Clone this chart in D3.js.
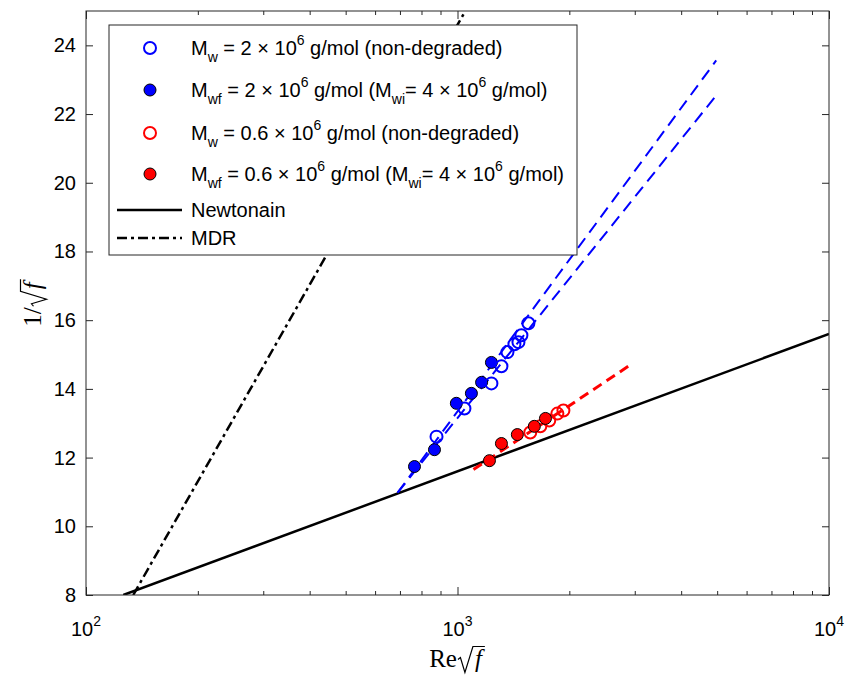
<!DOCTYPE html>
<html>
<head>
<meta charset="utf-8">
<script src="https://cdn.jsdelivr.net/npm/d3@7"></script>
<style>
body { margin: 0; background: #fff; }
text { font-family: "Liberation Sans", Arial, sans-serif; fill: #000; }
.tex { font-family: "Liberation Serif", "DejaVu Serif", serif; }
</style>
</head>
<body>
<div id="main"></div>
<script>
// data
var blueOpenX = [878, 1044, 1234, 1313, 1363, 1423, 1459, 1486, 1552];
var blueOpenY = [12.61, 13.43, 14.16, 14.66, 15.07, 15.30, 15.36, 15.56, 15.91];
var blueFillX = [766, 867, 993, 1090, 1161, 1234];
var blueFillY = [11.74, 12.23, 13.58, 13.87, 14.19, 14.77];
var redOpenX = [1570, 1671, 1766, 1857, 1928];
var redOpenY = [12.73, 12.91, 13.08, 13.28, 13.37];
var redFillX = [1219, 1313, 1449, 1610, 1725];
var redFillY = [11.91, 12.41, 12.67, 12.91, 13.14];

// fitted / reference lines (end points)
var blueFitAX = [690, 4970], blueFitAY = [10.98, 23.56];
var blueFitBX = [690, 4970], blueFitBY = [10.98, 22.54];
var redFitX = [1104, 2940], redFitY = [11.65, 14.72];
var newtX = [126, 10000], newtY = [8, 15.6];
var mdrX = [134, 1050], mdrY = [8, 25];

var xMajor = [100, 1000, 10000];
var xMajorExp = ["2", "3", "4"];
var yTicks = [8, 10, 12, 14, 16, 18, 20, 22, 24];

var width = 849, height = 677;
var L = 86, R = 829, T = 11, B = 595;
var axCol = "#262626";
var FS = 20;

var svg = d3.select("#main").append("svg")
    .attr("width", width)
    .attr("height", height);

var x = d3.scaleLog().domain([100, 10000]).range([L, R]);
var y = d3.scaleLinear().domain([8, 25]).range([B, T]);

svg.append("clipPath").attr("id", "clip")
    .append("rect").attr("x", L).attr("y", T).attr("width", R - L).attr("height", B - T);

var zip = (xs, ys) => xs.map((v, i) => [v, ys[i]]);
var line = d3.line().x(d => x(d[0])).y(d => y(d[1]));

var plot = svg.append("g").attr("clip-path", "url(#clip)");

plot.append("path").datum(zip(newtX, newtY))
    .attr("d", line).attr("fill", "none").attr("stroke", "#000").attr("stroke-width", 2.5);
plot.append("path").datum(zip(mdrX, mdrY))
    .attr("d", line).attr("fill", "none").attr("stroke", "#000").attr("stroke-width", 2.5)
    .attr("stroke-dasharray", "10,4,3,4");
[[blueFitAX, blueFitAY], [blueFitBX, blueFitBY]].forEach(f => {
    plot.append("path").datum(zip(f[0], f[1]))
        .attr("d", line).attr("fill", "none").attr("stroke", "#0000ff").attr("stroke-width", 2)
        .attr("stroke-dasharray", "12,7");
});
plot.append("path").datum(zip(redFitX, redFitY))
    .attr("d", line).attr("fill", "none").attr("stroke", "#ff0000").attr("stroke-width", 3)
    .attr("stroke-dasharray", "10,6");

function markers(xs, ys, fill, stroke, sw) {
    plot.append("g").selectAll("circle")
        .data(zip(xs, ys))
        .enter().append("circle")
        .attr("cx", d => x(d[0]))
        .attr("cy", d => y(d[1]))
        .attr("r", 6)
        .attr("fill", fill)
        .attr("stroke", stroke)
        .attr("stroke-width", sw);
}
markers(blueFillX, blueFillY, "#0000ff", "#000", 1);
markers(blueOpenX, blueOpenY, "none", "#0000ff", 2);
markers(redOpenX, redOpenY, "none", "#ff0000", 2);
markers(redFillX, redFillY, "#ff0000", "#000", 1);

// axes box with inward ticks
var ax = svg.append("g");
ax.append("rect").attr("x", L).attr("y", T).attr("width", R - L).attr("height", B - T)
    .attr("fill", "none").attr("stroke", axCol).attr("stroke-width", 1);

var xMinor = [];
for (var dec = 100; dec < 10000; dec *= 10)
    for (var k = 2; k <= 9; k++) xMinor.push(dec * k);

function tickRow(axisFn, scale, vals, size, tr) {
    ax.append("g").attr("transform", tr)
        .call(axisFn(scale).tickValues(vals).tickSize(-size).tickFormat(""))
        .call(g => g.select(".domain").remove());
}
tickRow(d3.axisBottom, x, xMinor, 4, "translate(0," + B + ")");
tickRow(d3.axisTop, x, xMinor, 4, "translate(0," + T + ")");
tickRow(d3.axisBottom, x, xMajor, 8, "translate(0," + B + ")");
tickRow(d3.axisTop, x, xMajor, 8, "translate(0," + T + ")");
tickRow(d3.axisLeft, y, yTicks, 7, "translate(" + L + ",0)");
tickRow(d3.axisRight, y, yTicks, 7, "translate(" + R + ",0)");
ax.selectAll(".tick line").attr("stroke", axCol).attr("stroke-width", 1);

// tick labels
svg.append("g").selectAll("text").data(yTicks).enter().append("text")
    .attr("x", L - 10).attr("y", d => y(d) + 7)
    .attr("text-anchor", "end").attr("font-size", FS)
    .text(d => d);

var xl = svg.append("g").selectAll("text").data(xMajor).enter().append("text")
    .attr("x", d => x(d)).attr("y", 636)
    .attr("text-anchor", "middle").attr("font-size", FS);
xl.append("tspan").text("10");
xl.append("tspan").attr("dy", -10).attr("font-size", 14).text((d, i) => xMajorExp[i]);

// axis titles: prefix + radical + italic f, drawn tex-like
function sqrtLabel(g, prefix, fs) {
    var t = g.append("text").attr("class", "tex").attr("font-size", fs).text(prefix);
    var w0 = t.node().getComputedTextLength() + 1;
    var rw = 0.6 * fs;
    var f = g.append("text").attr("class", "tex").attr("font-size", fs)
        .attr("font-style", "italic").attr("x", w0 + rw + 2).text("f");
    var fw = f.node().getComputedTextLength();
    var top = -0.82 * fs;
    var p = d3.path();
    p.moveTo(w0, -0.3 * fs);
    p.lineTo(w0 + 0.1 * fs, -0.38 * fs);
    p.lineTo(w0 + 0.28 * fs, 0.22 * fs);
    p.lineTo(w0 + rw, top);
    p.lineTo(w0 + rw + fw + 5, top);
    g.append("path").attr("d", p.toString()).attr("fill", "none")
        .attr("stroke", "#000").attr("stroke-width", 1.2);
    return w0 + rw + fw + 5;
}
var xt = svg.append("g");
var xw = sqrtLabel(xt, "Re", 25);
xt.attr("transform", "translate(" + (457 - xw / 2) + ",667)");

var yt = svg.append("g");
var yw = sqrtLabel(yt, "1/", 25);
yt.attr("transform", "translate(41," + (303 + yw / 2) + ") rotate(-90)");

// legend
var lg = svg.append("g");
lg.append("rect").attr("x", 109).attr("y", 25).attr("width", 468).attr("height", 230)
    .attr("fill", "#fff").attr("stroke", axCol).attr("stroke-width", 1);

var legItems = [
    { fill: "none", stroke: "#0000ff", sub: "w", val: "2", init: false },
    { fill: "#0000ff", stroke: "#000", sub: "wf", val: "2", init: true },
    { fill: "none", stroke: "#ff0000", sub: "w", val: "0.6", init: false },
    { fill: "#ff0000", stroke: "#000", sub: "wf", val: "0.6", init: true }
];
var rowY = [48, 90, 133, 174];
legItems.forEach((it, i) => {
    var cy = rowY[i];
    lg.append("circle").attr("cx", 150).attr("cy", cy).attr("r", 6)
        .attr("fill", it.fill).attr("stroke", it.stroke)
        .attr("stroke-width", it.fill === "none" ? 2 : 1);
    var t = lg.append("text").attr("x", 191).attr("y", cy + 7).attr("font-size", FS);
    t.append("tspan").text("M");
    t.append("tspan").attr("font-size", 14).attr("dy", 7).text(it.sub);
    t.append("tspan").attr("dy", -7).text(" = " + it.val + " \u00D7 10");
    t.append("tspan").attr("font-size", 14).attr("dy", -10).text("6");
    if (it.init) {
        t.append("tspan").attr("dy", 10).text(" g/mol (M");
        t.append("tspan").attr("font-size", 14).attr("dy", 7).text("wi");
        t.append("tspan").attr("dy", -7).text("= 4 \u00D7 10");
        t.append("tspan").attr("font-size", 14).attr("dy", -10).text("6");
        t.append("tspan").attr("dy", 10).text(" g/mol)");
    } else {
        t.append("tspan").attr("dy", 10).text(" g/mol (non-degraded)");
    }
});
lg.append("line").attr("x1", 117).attr("x2", 182).attr("y1", 210).attr("y2", 210)
    .attr("stroke", "#000").attr("stroke-width", 2.5);
lg.append("text").attr("x", 191).attr("y", 217).attr("font-size", FS).text("Newtonain");
lg.append("line").attr("x1", 117).attr("x2", 182).attr("y1", 238).attr("y2", 238)
    .attr("stroke", "#000").attr("stroke-width", 2.5).attr("stroke-dasharray", "10,4,3,4");
lg.append("text").attr("x", 191).attr("y", 245).attr("font-size", FS).text("MDR");
</script>
</body>
</html>
